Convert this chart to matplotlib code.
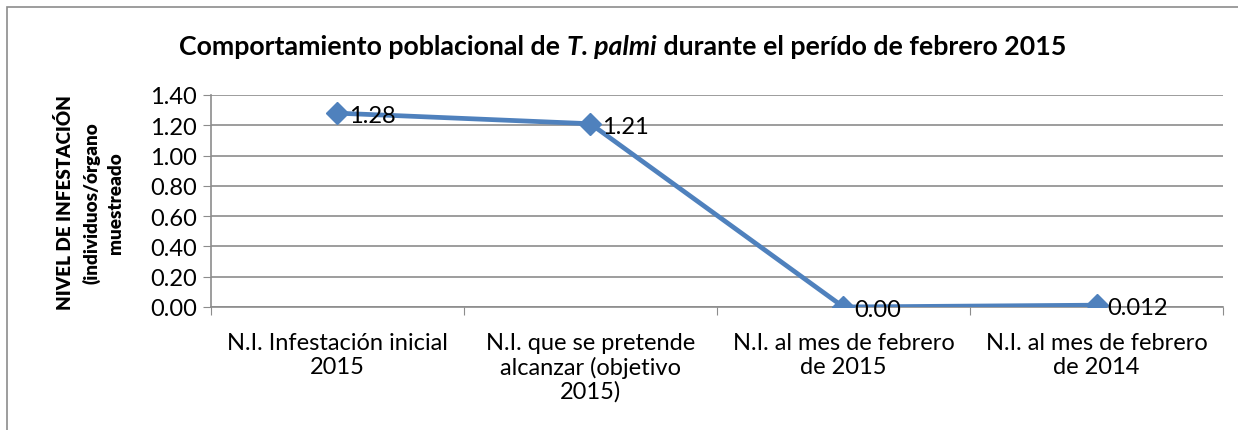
import matplotlib.pyplot as plt
from matplotlib.patches import Rectangle

# data
categorias = ["N.I. Infestación inicial\n2015",
              "N.I. que se pretende\nalcanzar (objetivo\n2015)",
              "N.I. al mes de febrero\nde 2015",
              "N.I. al mes de febrero\nde 2014"]
niveles = [1.28, 1.21, 0.00, 0.012]
etiquetas = ["1.28", "1.21", "0.00", "0.012"]
y_ticks = [0.0, 0.2, 0.4, 0.6, 0.8, 1.0, 1.2, 1.4]
ylabel_lineas = ["NIVEL DE INFESTACIÓN", "(individuos/órgano", "muestreado"]

plt.rcParams['font.family'] = ['Lato', 'DejaVu Sans']

W, H = 1238, 431
fig = plt.figure(figsize=(W / 100, H / 100), dpi=100)
ax = fig.add_axes([0.1704, 0.2854, 0.8175, 0.4919])

# chart border (light grey frame)
fig.patches.append(Rectangle((7 / W, -0.1), 1.2, 1 - 8 / H + 0.1,
                             transform=fig.transFigure, fill=False,
                             edgecolor='#8c8c8c', linewidth=1.2))

x = list(range(len(categorias)))
ax.plot(x, niveles, color='#4F81BD', linewidth=3.4, marker='D',
        markersize=11, markerfacecolor='#4F81BD', markeredgecolor='#4F81BD',
        zorder=3)

for xi, yi, t in zip(x, niveles, etiquetas):
    ax.annotate(t, (xi, yi), xytext=(8, -2), textcoords='offset points',
                ha='left', va='center', fontsize=17, zorder=4)

ax.set_xlim(-0.5, len(categorias) - 0.5)
ax.set_ylim(0, 1.4)
ax.set_yticks(y_ticks)
ax.set_yticklabels(["%.2f" % v for v in y_ticks], fontsize=17)

# category labels centred between the boundary ticks
ax.set_xticks([i - 0.5 for i in range(len(categorias) + 1)])
ax.set_xticklabels([])
ax.set_xticks(x, minor=True)
ax.set_xticklabels(categorias, minor=True, fontsize=17, linespacing=1.15)
ax.tick_params(axis='x', which='minor', length=0, pad=18)
ax.tick_params(axis='x', which='major', length=6, color='#8c8c8c', direction='out')
ax.tick_params(axis='y', length=6, color='#8c8c8c', direction='out', pad=4)

ax.grid(axis='y', color='#8c8c8c', linewidth=1.2)
ax.set_axisbelow(True)
for s in ['top', 'right']:
    ax.spines[s].set_visible(False)
for s in ['left', 'bottom']:
    ax.spines[s].set_color('#8c8c8c')
    ax.spines[s].set_linewidth(1.2)

# y label: three rotated lines, placed one by one for even spacing
for linea, xp in zip(ylabel_lineas, [65, 91, 116]):
    fig.text(xp / W, 1 - 203 / H, linea, rotation=90, fontsize=13.6,
             fontweight='heavy', ha='center', va='center')

# title in three pieces so that only the species name is italic
partes = [("Comportamiento poblacional de ", 'normal'),
          ("T. palmi", 'italic'),
          (" durante el perído de febrero 2015", 'normal')]
textos = [fig.text(0, 0.89, p, style=st, fontsize=19.3, fontweight='bold',
                   ha='left', va='center') for p, st in partes]
fig.canvas.draw()
r = fig.canvas.get_renderer()
anchos = [t.get_window_extent(r).width for t in textos]
x0 = 0.503 * fig.bbox.width - sum(anchos) / 2
for t, w in zip(textos, anchos):
    t.set_x(x0 / fig.bbox.width)
    x0 += w

fig.savefig("out.png", dpi=100)
